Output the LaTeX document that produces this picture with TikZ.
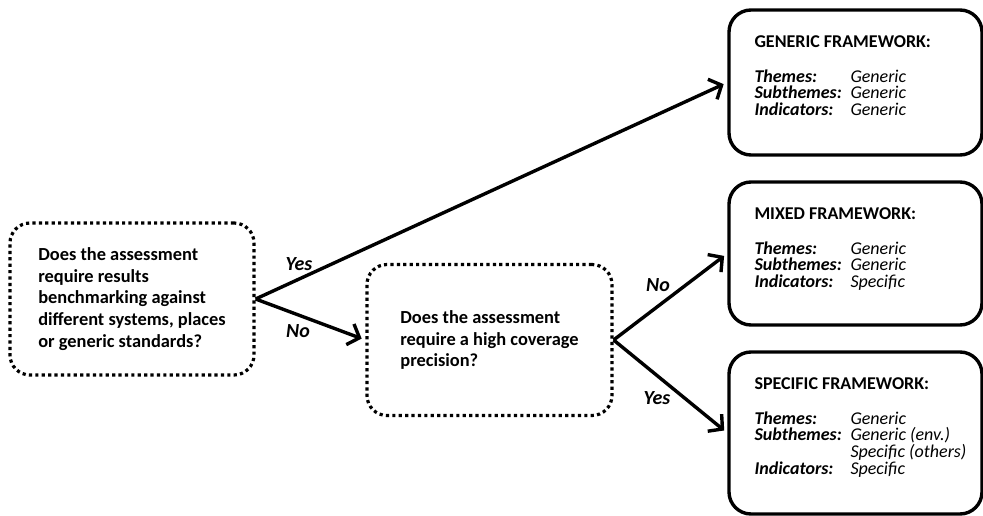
\documentclass[tikz,border=0pt]{standalone}
\usepackage{fontspec}
\setmainfont{Carlito}
\usetikzlibrary{arrows.meta}
\newcommand{\fwfont}{\fontsize{18}{16.6}\selectfont\lineskiplimit-20pt\relax}
\tikzset{
  qbox/.style={draw, line width=3.2pt, dash pattern=on 3.2pt off 3.2pt,
    rounded corners=20pt, align=left, inner sep=0pt,
    font=\bfseries\fontsize{18.4}{21.7}\selectfont},
  fwbox/.style={draw, line width=3.4pt, rounded corners=22pt, inner sep=0pt,
    minimum width=253pt},
  fwtext/.style={anchor=north west, inner sep=0pt, align=left, font=\fwfont},
  conn/.style={line width=3.4pt, -{Straight Barb[length=10pt,width=22pt,line width=3.4pt]},
    shorten >=4pt},
  lbl/.style={font=\bfseries\itshape\fontsize{20}{22}\selectfont, inner sep=0pt}
}
\newcommand{\fwl}[1]{\makebox[96pt][l]{\textbf{\textit{#1}}}}
\newcommand{\fwv}[1]{\textit{#1}}
\begin{document}
\begin{tikzpicture}[x=1pt,y=-1pt]
\useasboundingbox (0,0) rectangle (983,516);
% question boxes
\node[qbox, minimum width=244pt, minimum height=152pt] (q1) at (132,299)
  {Does the assessment\\require results\\benchmarking against\\different systems, places\\or generic standards?};
\node[qbox, minimum width=245pt, minimum height=151pt] (q2) at (489.5,340)
  {Does the assessment\\require a high coverage\\precision?};
% framework boxes
\node[fwbox, minimum height=145pt] (g) at (855.5,82.5) {};
\node[fwbox, minimum height=143pt] (m) at (855.5,253.5) {};
\node[fwbox, minimum height=162pt] (s) at (855.5,433) {};
\node[fwtext] (gt) at ([shift={(27,27)}]g.north west)
  {\textbf{GENERIC FRAMEWORK:}\\[18.4pt]
   \fwl{Themes:}\fwv{Generic}\\
   \fwl{Subthemes:}\fwv{Generic}\\
   \fwl{Indicators:}\fwv{Generic}};
\node[fwtext] (mt) at ([shift={(27,27)}]m.north west)
  {\textbf{MIXED FRAMEWORK:}\\[18.4pt]
   \fwl{Themes:}\fwv{Generic}\\
   \fwl{Subthemes:}\fwv{Generic}\\
   \fwl{Indicators:}\fwv{Specific}};
\node[fwtext] (st) at ([shift={(27,27)}]s.north west)
  {\textbf{SPECIFIC FRAMEWORK:}\\[18.4pt]
   \fwl{Themes:}\fwv{Generic}\\
   \fwl{Subthemes:}\fwv{Generic (env.)}\\
   \fwl{}\fwv{Specific (others)}\\
   \fwl{Indicators:}\fwv{Specific}};
% connectors
\draw[conn] (q1.east) -- (g.west);
\draw[conn] (q1.east) -- (q2.west);
\draw[conn] (q2.east) -- (m.west);
\draw[conn] (q2.east) -- (s.west);
% labels
\node[lbl] (ly1) at (299,264) {Yes};
\node[lbl] (ln1) at (298,331) {No};
\node[lbl] (ln2) at (658,285) {No};
\node[lbl] (ly2) at (657,398) {Yes};
\end{tikzpicture}
\end{document}
